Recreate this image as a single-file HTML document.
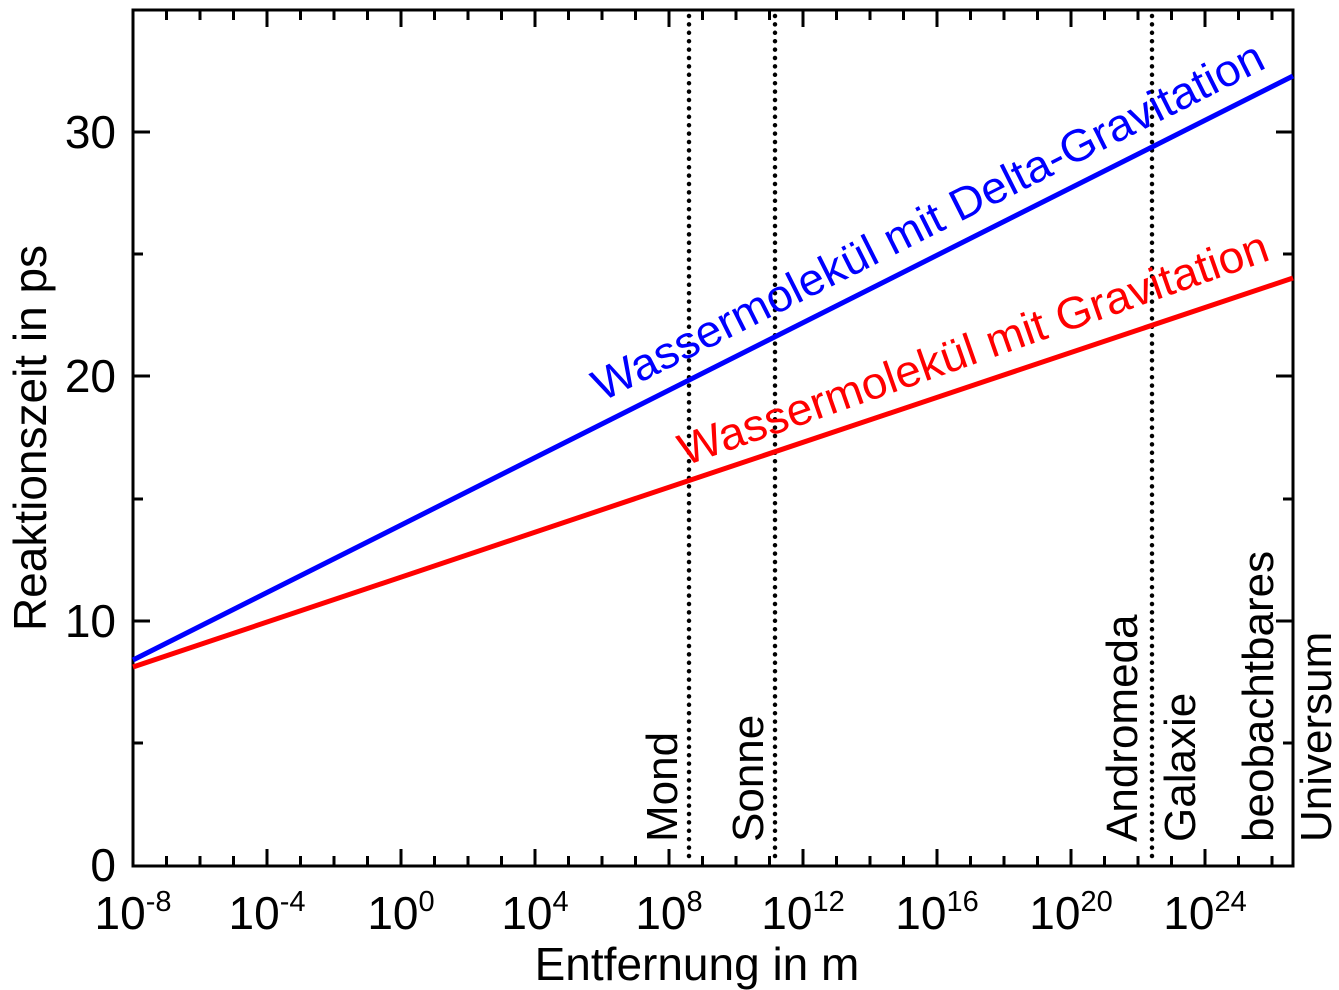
<!DOCTYPE html>
<html><head><meta charset="utf-8"><style>html,body{margin:0;padding:0;background:#fff}svg{display:block}text{font-family:"Liberation Sans",Arial,sans-serif}</style></head><body>
<svg width="1339" height="990" viewBox="0 0 1339 990" xmlns="http://www.w3.org/2000/svg">
<g stroke="#000" stroke-width="3" fill="none">
<rect x="133" y="10" width="1160" height="856"/>
</g>
<g stroke="#000" stroke-width="4.5" stroke-dasharray="0,8.4" stroke-linecap="round">
<line x1="689" y1="16" x2="689" y2="864"/>
<line x1="775" y1="16" x2="775" y2="864"/>
<line x1="1152" y1="16" x2="1152" y2="864"/>
</g>
<line x1="133" y1="660" x2="1293" y2="76" stroke="#0000ff" stroke-width="5"/>
<line x1="133" y1="667" x2="1293" y2="278" stroke="#ff0000" stroke-width="5"/>
<text x="0" y="0" font-size="45" fill="#0000ff" transform="translate(602,402) rotate(-26.7)" textLength="745" lengthAdjust="spacingAndGlyphs">Wassermolekül mit Delta-Gravitation</text>
<text x="0" y="0" font-size="45" fill="#ff0000" transform="translate(685,466) rotate(-19.4)" textLength="622" lengthAdjust="spacingAndGlyphs">Wassermolekül mit Gravitation</text>
<g font-size="44" fill="#000">
<text transform="translate(677,842) rotate(-90)">Mond</text>
<text transform="translate(763,842) rotate(-90)">Sonne</text>
<text transform="translate(1137,842) rotate(-90)">Andromeda</text>
<text transform="translate(1195,842) rotate(-90)">Galaxie</text>
<text transform="translate(1273,842) rotate(-90)">beobachtbares</text>
<text transform="translate(1331,842) rotate(-90)">Universum</text>
</g>
<g font-size="46" fill="#000" text-anchor="end">
<text x="116" y="881">0</text>
<text x="116" y="637">10</text>
<text x="116" y="392">20</text>
<text x="116" y="148">30</text>
</g>
<g font-size="46" fill="#000" text-anchor="middle">
<text x="133" y="929">10<tspan font-size="29" dy="-18">-8</tspan></text>
<text x="267" y="929">10<tspan font-size="29" dy="-18">-4</tspan></text>
<text x="401" y="929">10<tspan font-size="29" dy="-18">0</tspan></text>
<text x="535" y="929">10<tspan font-size="29" dy="-18">4</tspan></text>
<text x="669" y="929">10<tspan font-size="29" dy="-18">8</tspan></text>
<text x="803" y="929">10<tspan font-size="29" dy="-18">12</tspan></text>
<text x="937" y="929">10<tspan font-size="29" dy="-18">16</tspan></text>
<text x="1071" y="929">10<tspan font-size="29" dy="-18">20</tspan></text>
<text x="1205" y="929">10<tspan font-size="29" dy="-18">24</tspan></text>
<text x="697" y="980">Entfernung in m</text>
<text transform="translate(46,438) rotate(-90)">Reaktionszeit in ps</text>
</g>
<g stroke="#000" stroke-width="3">
<path d="
M166.5,866v-10M200,866v-10M233.5,866v-10M267,866v-17M300.5,866v-10M334,866v-10M367.5,866v-10M401,866v-17M434.5,866v-10M468,866v-10M501.5,866v-10M535,866v-17M568.5,866v-10M602,866v-10M635.5,866v-10M669,866v-17M702.5,866v-10M736,866v-10M769.5,866v-10M803,866v-17M836.5,866v-10M870,866v-10M903.5,866v-10M937,866v-17M970.5,866v-10M1004,866v-10M1037.5,866v-10M1071,866v-17M1104.5,866v-10M1138,866v-10M1171.5,866v-10M1205,866v-17M1238.5,866v-10M1272,866v-10
M166.5,10v10M200,10v10M233.5,10v10M267,10v17M300.5,10v10M334,10v10M367.5,10v10M401,10v17M434.5,10v10M468,10v10M501.5,10v10M535,10v17M568.5,10v10M602,10v10M635.5,10v10M669,10v17M702.5,10v10M736,10v10M769.5,10v10M803,10v17M836.5,10v10M870,10v10M903.5,10v10M937,10v17M970.5,10v10M1004,10v10M1037.5,10v10M1071,10v17M1104.5,10v10M1138,10v10M1171.5,10v10M1205,10v17M1238.5,10v10M1272,10v10
M133,743h10M133,621h17M133,499h10M133,376h17M133,254h10M133,132h17
M1293,743h-10M1293,621h-17M1293,499h-10M1293,376h-17M1293,254h-10M1293,132h-17"/>
</g>
</svg>
</body></html>
